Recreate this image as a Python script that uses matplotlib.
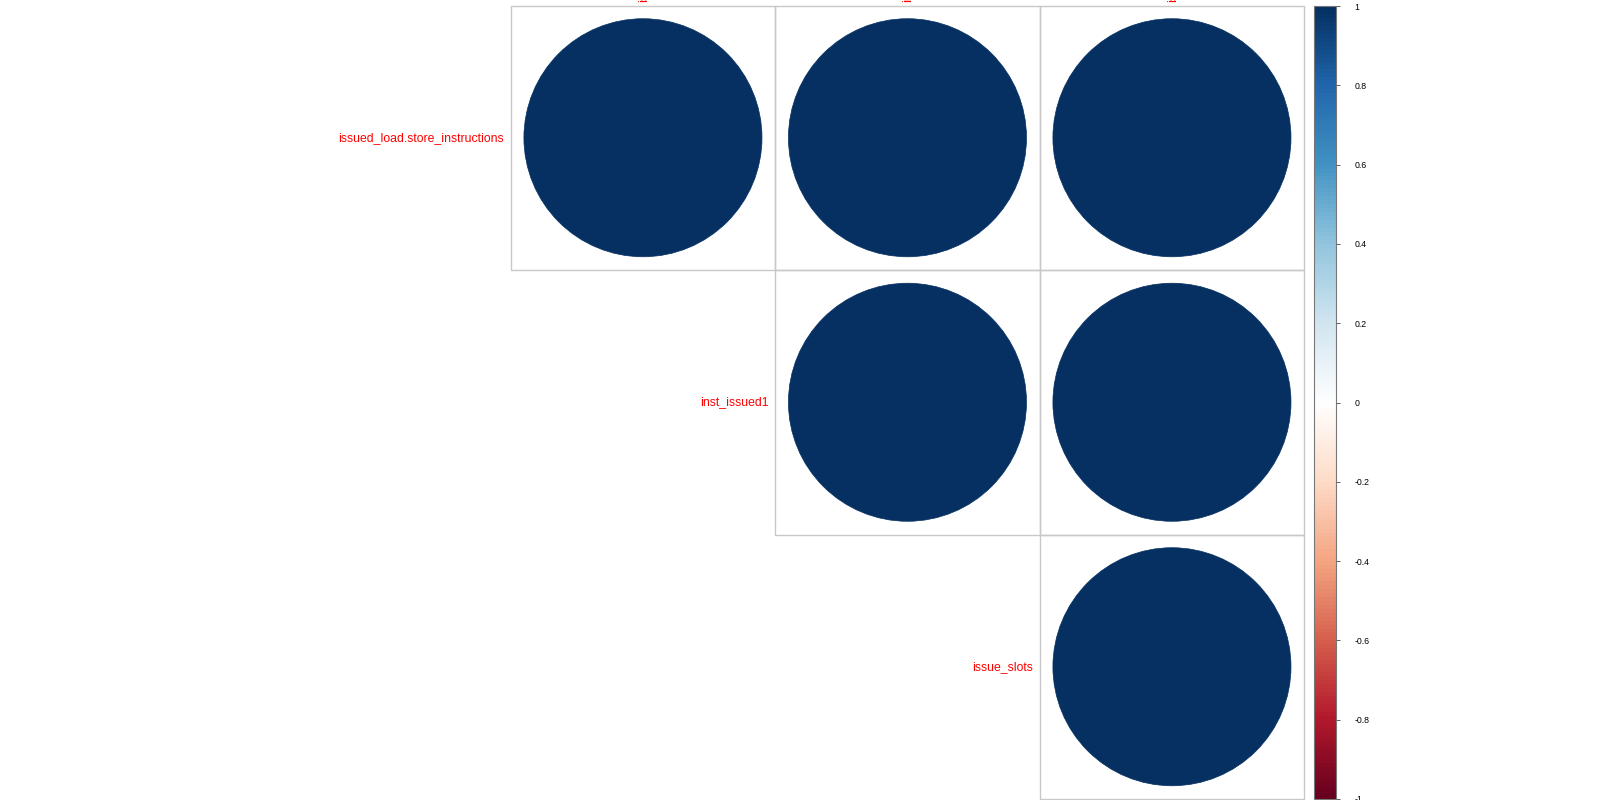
import numpy as np
import matplotlib.pyplot as plt
from matplotlib.colors import LinearSegmentedColormap, Normalize
from matplotlib.patches import Circle, Rectangle
import matplotlib.colorbar as mcolorbar

plt.rcParams['font.family'] = ['Liberation Sans', 'DejaVu Sans']

# variables and correlation values (upper triangle shown)
labels = ['issued_load.store_instructions', 'inst_issued1', 'issue_slots']
corr = np.array([[1.00, 1.00, 1.00],
                 [1.00, 1.00, 1.00],
                 [1.00, 1.00, 1.00]])
cbar_ticks = [-1, -0.8, -0.6, -0.4, -0.2, 0, 0.2, 0.4, 0.6, 0.8, 1]

# corrplot RdBu palette
rdbu = ["#67001F", "#B2182B", "#D6604D", "#F4A582", "#FDDBC7", "#FFFFFF",
        "#D1E5F0", "#92C5DE", "#4393C3", "#2166AC", "#053061"]
cmap = LinearSegmentedColormap.from_list('corrRdBu', rdbu, N=200)
norm = Normalize(-1, 1)

W, H = 1600, 800
fig = plt.figure(figsize=(16, 8), dpi=100)

# main grid: 3 cells, top-left corner at (510.7, 5.5)
cell = 264.5
top = 5.5
n = len(labels)
ax = fig.add_axes([510.7 / W, 1 - (top + n * cell) / H, n * cell / W, n * cell / H])
ax.set_xlim(0, n)
ax.set_ylim(n, 0)
ax.axis('off')

for i in range(n):
    for j in range(i, n):
        ax.add_patch(Rectangle((j, i), 1, 1, fill=False, edgecolor='#c8c8c8',
                               linewidth=1.0, clip_on=False))
        r = corr[i, j]
        ax.add_patch(Circle((j + 0.5, i + 0.5), 0.45 * np.sqrt(abs(r)),
                            facecolor=cmap(norm(r)), edgecolor=cmap(norm(r)),
                            linewidth=0.5, clip_on=False))
    # row label to the left of the diagonal cell
    ax.text(i - 0.025, i + 0.5, labels[i], color='red', fontsize=8.8,
            ha='right', va='center', clip_on=False)
    # column label above the grid (mostly outside the figure)
    ax.text(i + 0.5, -0.015, labels[i], color='red', fontsize=8.8,
            rotation=90, ha='center', va='bottom', clip_on=False)

# colour legend
cax = fig.add_axes([1314 / W, 1 - 799 / H, 22 / W, 793 / H])
cb = mcolorbar.ColorbarBase(cax, cmap=cmap, norm=norm, orientation='vertical',
                            ticks=cbar_ticks)
cb.outline.set_edgecolor('#777777')
cb.outline.set_linewidth(0.8)
cax.set_yticklabels(['%g' % t for t in cbar_ticks])
cax.tick_params(axis='y', length=3, width=0.6, color='#444444',
                labelsize=6.3, pad=10.5)

fig.savefig('out.png', dpi=100)
